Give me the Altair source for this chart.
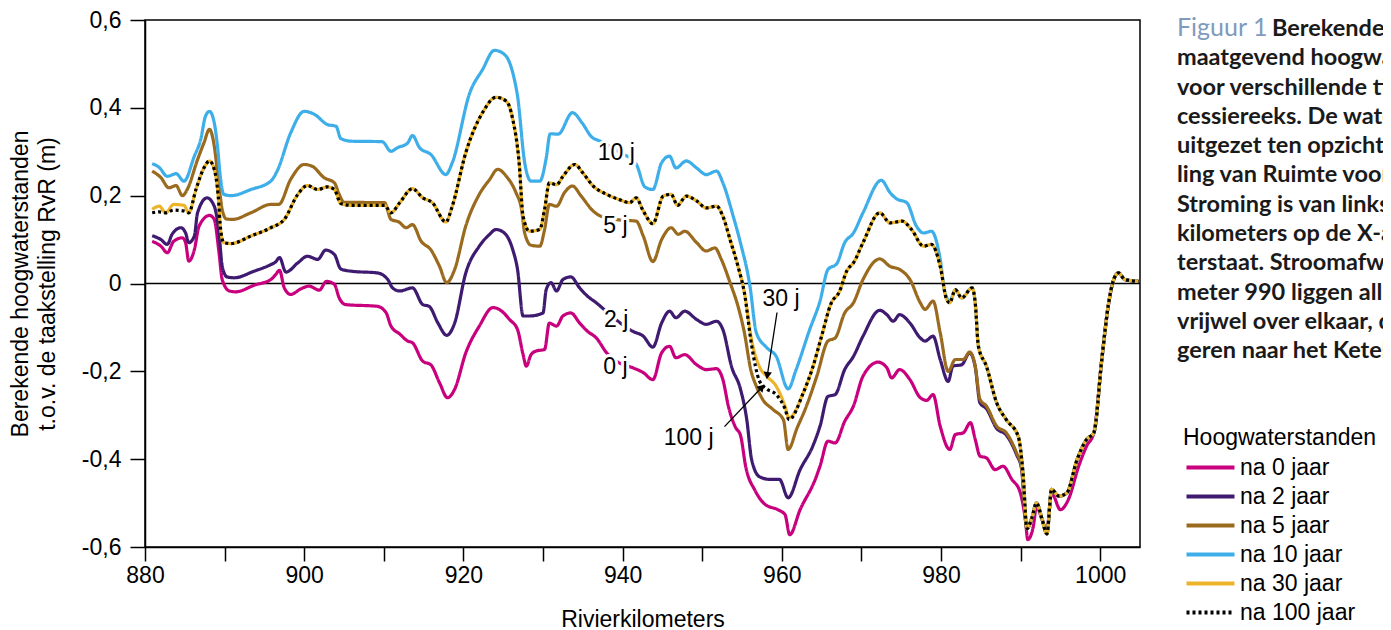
import altair as alt
import pandas as pd

SERIES = ["na 0 jaar", "na 2 jaar", "na 5 jaar", "na 10 jaar", "na 30 jaar", "na 100 jaar"]
COLORS = ["#c8007e", "#3e1a70", "#9a6a1f", "#3eaee9", "#ecb42a", "#000000"]
DASHES = [[1, 0], [1, 0], [1, 0], [1, 0], [1, 0], [3, 3]]

# shared downstream part (curves coincide there)
tail_km = [984.3, 984.7, 985.7, 987.0, 988.2, 989.7, 990.3, 990.8, 991.4, 992.0, 992.7, 993.3,
           993.9, 994.8, 995.8, 997.1, 998.3, 999.2, 1000.2, 1001.0, 1001.7, 1002.3, 1003.1, 1004.8]
tail_val = [-0.044, -0.143, -0.188, -0.272, -0.310, -0.348, -0.431, -0.558, -0.535, -0.500, -0.537, -0.570,
            -0.469, -0.484, -0.477, -0.401, -0.355, -0.340, -0.173, -0.052, 0.009, 0.024, 0.009, 0.005]

km_0 = [880.9, 882.0, 882.8, 883.6, 884.7, 885.1, 885.5, 886.2, 886.8, 888.1, 888.7, 889.3, 889.7, 890.6,
        891.4, 893.7, 895.8, 896.4, 896.9, 897.5, 898.3, 899.6, 900.6, 901.9, 902.8, 903.8, 904.4, 905.2,
        909.2, 910.3, 910.9, 912.0, 913.0, 913.6, 914.9, 915.9, 917.0, 918.0, 918.9, 920.3, 922.0, 923.7,
        924.5, 925.8, 926.8, 927.5, 927.9, 928.5, 929.1, 930.2, 930.8, 931.7, 932.5, 933.5, 934.6, 935.6,
        936.7, 938.0, 939.5, 941.3, 942.6, 943.8, 944.9, 945.9, 946.7, 947.8, 949.3, 950.5, 951.8, 952.6,
        953.3, 954.2, 954.8, 955.5, 956.6, 957.9, 959.5, 960.4, 961.0, 962.3, 964.2, 964.8, 965.8, 966.7,
        967.9, 969.0, 970.2, 972.1, 973.2, 973.8, 974.8, 976.1, 977.4, 978.2, 979.0, 979.9, 981.1, 981.8,
        982.8, 983.7, 984.3, 984.9, 985.7, 986.8, 987.8, 988.9, 989.9, 990.6, 990.9, 991.6, 992.0, 992.7,
        993.3, 993.9, 995.0, 996.0, 997.3, 998.3]
val_0 = [0.096, 0.085, 0.070, 0.096, 0.104, 0.093, 0.051, 0.077, 0.131, 0.155, 0.146, 0.070, 0.009, -0.017,
         -0.019, -0.004, 0.009, 0.020, 0.030, -0.010, -0.025, -0.012, -0.006, -0.015, 0.005, -0.002, -0.033, -0.048,
         -0.052, -0.067, -0.097, -0.115, -0.131, -0.135, -0.177, -0.185, -0.226, -0.260, -0.241, -0.158, -0.097, -0.055,
         -0.059, -0.082, -0.105, -0.162, -0.188, -0.162, -0.154, -0.150, -0.090, -0.097, -0.074, -0.067, -0.090, -0.109,
         -0.124, -0.158, -0.180, -0.192, -0.203, -0.219, -0.158, -0.143, -0.169, -0.162, -0.185, -0.196, -0.194, -0.219,
         -0.280, -0.328, -0.345, -0.420, -0.470, -0.503, -0.515, -0.526, -0.572, -0.515, -0.446, -0.416, -0.359, -0.363,
         -0.314, -0.279, -0.211, -0.179, -0.192, -0.215, -0.196, -0.219, -0.260, -0.266, -0.253, -0.325, -0.378, -0.344,
         -0.340, -0.317, -0.355, -0.393, -0.397, -0.424, -0.416, -0.446, -0.473, -0.538, -0.583, -0.553, -0.507, -0.538,
         -0.560, -0.477, -0.515, -0.492, -0.416, -0.370]

km_2 = [880.9, 882.0, 882.8, 883.4, 884.5, 885.1, 885.5, 886.2, 886.6, 887.8, 888.7, 889.3, 889.7, 890.3,
        891.2, 893.7, 895.8, 896.4, 896.9, 897.7, 899.2, 900.4, 901.7, 902.7, 903.8, 904.6, 905.9, 909.2,
        910.5, 911.1, 912.0, 913.6, 914.9, 915.7, 916.8, 917.9, 918.9, 920.3, 922.0, 923.3, 924.1, 925.2,
        926.2, 926.8, 927.5, 928.3, 930.0, 930.4, 931.0, 931.7, 932.5, 933.5, 934.6, 935.6, 936.7, 939.0,
        941.3, 942.6, 943.8, 944.9, 945.9, 946.7, 947.8, 949.3, 950.5, 951.8, 952.6, 953.7, 954.8, 955.6,
        956.2, 957.2, 958.5, 959.7, 960.8, 962.3, 963.9, 964.8, 965.8, 966.7, 967.9, 969.0, 970.2, 972.3,
        973.2, 974.0, 974.8, 976.1, 977.4, 978.0, 979.0, 979.9, 980.9, 981.5, 982.6, 983.6, 984.3, 984.9,
        985.7, 987.0, 988.2, 989.5, 990.1]
val_2 = [0.109, 0.100, 0.089, 0.112, 0.127, 0.115, 0.093, 0.108, 0.161, 0.195, 0.176, 0.115, 0.039, 0.015,
         0.013, 0.028, 0.043, 0.049, 0.059, 0.026, 0.047, 0.062, 0.055, 0.076, 0.066, 0.033, 0.028, 0.024,
         0.009, -0.010, -0.017, -0.010, -0.048, -0.052, -0.090, -0.118, -0.090, 0.024, 0.085, 0.112, 0.123, 0.114,
         0.077, 0.032, -0.074, -0.074, -0.067, -0.014, 0.002, -0.017, 0.009, 0.015, -0.010, -0.029, -0.044, -0.080,
         -0.109, -0.120, -0.145, -0.090, -0.063, -0.078, -0.063, -0.082, -0.093, -0.086, -0.105, -0.190, -0.240, -0.310,
         -0.400, -0.440, -0.446, -0.446, -0.488, -0.424, -0.370, -0.325, -0.257, -0.253, -0.196, -0.166, -0.120, -0.061,
         -0.071, -0.086, -0.071, -0.090, -0.124, -0.131, -0.120, -0.173, -0.223, -0.188, -0.185, -0.158, -0.190, -0.272,
         -0.285, -0.330, -0.345, -0.390, -0.420]

km_5 = [880.9, 882.0, 883.0, 883.9, 884.7, 885.3, 886.6, 887.4, 888.1, 888.7, 889.2, 889.7, 890.2, 891.0,
        893.3, 895.8, 896.8, 898.3, 900.0, 901.0, 902.5, 903.8, 904.4, 905.0, 910.1, 910.9, 911.9, 912.8,
        913.6, 914.7, 915.9, 917.0, 917.9, 918.9, 920.3, 922.0, 923.3, 924.3, 925.4, 926.6, 927.3, 927.7,
        928.5, 929.6, 930.2, 930.8, 931.7, 932.7, 933.7, 934.8, 936.3, 937.3, 939.5, 941.7, 942.6, 943.8,
        944.9, 946.1, 947.0, 947.8, 949.3, 950.5, 951.6, 952.4, 953.5, 954.5, 955.3, 956.1, 956.8, 957.6,
        958.9, 960.2, 960.8, 961.9, 963.1, 964.4, 965.8, 966.7, 967.9, 969.0, 970.2, 972.3, 973.6, 974.8,
        976.1, 977.4, 978.0, 979.0, 979.9, 980.9, 981.8, 982.8, 983.6, 984.3, 984.9, 985.7, 987.0, 988.2,
        989.5, 990.1]
val_5 = [0.256, 0.241, 0.218, 0.223, 0.200, 0.214, 0.282, 0.320, 0.351, 0.313, 0.237, 0.169, 0.147, 0.146,
         0.161, 0.180, 0.180, 0.237, 0.271, 0.267, 0.241, 0.229, 0.203, 0.185, 0.184, 0.146, 0.140, 0.127,
         0.134, 0.096, 0.077, 0.039, 0.002, 0.032, 0.131, 0.203, 0.237, 0.260, 0.244, 0.207, 0.169, 0.115,
         0.087, 0.085, 0.123, 0.180, 0.176, 0.207, 0.222, 0.199, 0.165, 0.153, 0.145, 0.142, 0.108, 0.050,
         0.100, 0.127, 0.112, 0.119, 0.093, 0.074, 0.081, 0.055, 0.002, -0.052, -0.112, -0.196, -0.234, -0.264,
         -0.287, -0.310, -0.378, -0.330, -0.279, -0.211, -0.131, -0.124, -0.067, -0.044, 0.009, 0.056, 0.039, 0.032,
         0.009, -0.044, -0.059, -0.040, -0.112, -0.200, -0.173, -0.173, -0.156, -0.188, -0.264, -0.279, -0.325, -0.340,
         -0.386, -0.416]

km_10 = [880.9, 881.8, 882.8, 883.9, 884.9, 886.2, 887.0, 887.6, 888.1, 888.7, 889.1, 889.5, 889.9, 890.8,
         893.3, 895.8, 896.6, 898.3, 900.0, 901.3, 902.9, 904.0, 904.6, 905.9, 909.8, 910.9, 911.7, 913.0,
         913.6, 914.5, 915.9, 917.8, 918.6, 920.8, 922.4, 923.9, 924.9, 925.8, 926.4, 926.8, 927.7, 928.5,
         929.6, 930.4, 930.9, 931.9, 933.7, 934.9, 936.1, 937.2, 939.5, 941.7, 942.8, 943.8, 944.9, 945.9,
         946.7, 948.0, 949.3, 950.5, 951.8, 952.6, 953.9, 954.7, 956.0, 956.8, 958.1, 959.3, 960.8, 961.8,
         963.5, 964.8, 965.8, 966.9, 967.9, 969.0, 970.2, 972.5, 973.6, 974.4, 975.7, 976.9, 977.8, 978.8,
         979.9, 980.5, 981.1, 981.8, 982.6, 983.9]
val_10 = [0.273, 0.264, 0.244, 0.250, 0.233, 0.290, 0.328, 0.381, 0.392, 0.366, 0.313, 0.237, 0.203, 0.200,
          0.214, 0.233, 0.256, 0.343, 0.392, 0.385, 0.362, 0.358, 0.330, 0.324, 0.323, 0.301, 0.309, 0.320,
          0.337, 0.309, 0.294, 0.248, 0.275, 0.434, 0.487, 0.531, 0.525, 0.503, 0.465, 0.427, 0.275, 0.233,
          0.233, 0.285, 0.341, 0.340, 0.389, 0.366, 0.334, 0.324, 0.300, 0.272, 0.220, 0.214, 0.275, 0.290,
          0.263, 0.279, 0.263, 0.248, 0.256, 0.229, 0.153, 0.100, -0.006, -0.112, -0.146, -0.166, -0.240, -0.196,
          -0.105, -0.040, 0.032, 0.045, 0.093, 0.115, 0.161, 0.235, 0.207, 0.193, 0.184, 0.131, 0.115, 0.119,
          0.055, -0.021, -0.040, -0.014, -0.033, -0.010]

km_30 = [880.9, 881.8, 882.6, 883.6, 884.9, 885.5, 886.4, 887.4, 888.1, 888.7, 889.2, 889.5, 889.9, 890.8,
         893.3, 895.8, 897.5, 899.2, 900.4, 901.7, 902.9, 903.8, 904.6, 905.9, 910.1, 910.9, 912.0, 913.6,
         914.9, 916.1, 917.8, 918.6, 920.3, 922.4, 924.1, 925.4, 926.2, 927.0, 927.5, 928.3, 929.6, 930.2,
         930.8, 931.7, 932.5, 934.0, 935.0, 936.3, 938.0, 939.6, 940.9, 941.7, 942.6, 943.8, 945.1, 946.1,
         946.9, 948.0, 949.3, 950.5, 951.8, 952.6, 953.5, 954.5, 955.3, 956.2, 957.2, 958.1, 959.3, 960.4,
         960.9, 962.7, 963.9, 965.0, 966.2, 967.2, 968.2, 969.0, 970.2, 972.3, 973.6, 975.1, 976.3, 977.8,
         978.8, 979.9, 980.7, 981.1, 981.8, 982.6, 983.9]
val_30 = [0.169, 0.176, 0.161, 0.180, 0.178, 0.161, 0.214, 0.263, 0.279, 0.260, 0.199, 0.123, 0.093, 0.091,
          0.108, 0.127, 0.146, 0.203, 0.223, 0.214, 0.220, 0.214, 0.182, 0.178, 0.178, 0.161, 0.184, 0.216,
          0.195, 0.184, 0.140, 0.176, 0.298, 0.389, 0.424, 0.415, 0.374, 0.275, 0.153, 0.119, 0.123, 0.169,
          0.229, 0.225, 0.244, 0.271, 0.252, 0.222, 0.203, 0.191, 0.184, 0.195, 0.165, 0.136, 0.199, 0.203,
          0.178, 0.199, 0.188, 0.172, 0.176, 0.153, 0.100, 0.039, -0.021, -0.128, -0.190, -0.211, -0.234, -0.279,
          -0.306, -0.249, -0.190, -0.120, -0.045, -0.020, 0.030, 0.047, 0.093, 0.161, 0.138, 0.142, 0.123, 0.085,
          0.089, 0.039, -0.036, -0.044, -0.014, -0.033, -0.010]
val_100 = [0.161, 0.163, 0.161, 0.167, 0.165, 0.161, 0.214, 0.263, 0.279, 0.260, 0.199, 0.123, 0.093, 0.091,
           0.108, 0.127, 0.146, 0.203, 0.223, 0.214, 0.220, 0.214, 0.182, 0.178, 0.178, 0.161, 0.184, 0.216,
           0.195, 0.184, 0.140, 0.176, 0.298, 0.389, 0.424, 0.415, 0.374, 0.275, 0.153, 0.119, 0.123, 0.169,
           0.229, 0.225, 0.244, 0.271, 0.252, 0.222, 0.203, 0.191, 0.184, 0.195, 0.165, 0.136, 0.199, 0.203,
           0.178, 0.199, 0.188, 0.172, 0.176, 0.153, 0.100, 0.039, -0.021, -0.140, -0.222, -0.240, -0.253, -0.285,
           -0.310, -0.249, -0.190, -0.120, -0.045, -0.020, 0.030, 0.047, 0.093, 0.161, 0.138, 0.142, 0.123, 0.085,
           0.089, 0.039, -0.036, -0.044, -0.014, -0.033, -0.010]

# annotation labels (data coordinates)
lab_text = ["10 j", "5 j", "2 j", "0 j", "30 j", "100 j"]
lab_km = [939.2, 939.1, 939.2, 939.1, 959.9, 948.3]
lab_val = [0.298, 0.130, -0.084, -0.191, -0.036, -0.351]
# arrows: start -> tip
arr_km = [959.4, 952.8]
arr_val = [-0.066, -0.326]
arr_km2 = [958.2, 957.4]
arr_val2 = [-0.207, -0.238]

caption_lines = [
    "maatgevend hoogwater",
    "voor verschillende tijd",
    "cessiereeks. De water",
    "uitgezet ten opzichte",
    "ling van Ruimte voor de",
    "Stroming is van links",
    "kilometers op de X-as",
    "terstaat. Stroomafwaarts",
    "meter 990 liggen alle",
    "vrijwel over elkaar, do",
    "geren naar het Ketel",
]

rows = []
def add(name, kms, vals, tail_from=None):
    for k, v in zip(kms, vals):
        rows.append({"reeks": name, "km": k, "val": v})
    if tail_from is not None:
        for k, v in zip(tail_km, tail_val):
            if k >= tail_from:
                rows.append({"reeks": name, "km": k, "val": v})

add(SERIES[0], km_0, val_0, 999.2)
add(SERIES[1], km_2, val_2, 990.8)
add(SERIES[2], km_5, val_5, 990.8)
add(SERIES[3], km_10, val_10, 984.3)
add(SERIES[4], km_30, val_30, 984.3)
add(SERIES[5], km_30, val_100, 984.3)
df = pd.DataFrame(rows)

FONT = "Liberation Sans"
FS = 23

xs = alt.X("km:Q", scale=alt.Scale(domain=[880, 1005], nice=False, zero=False),
           axis=alt.Axis(title="Rivierkilometers", values=list(range(880, 1001, 10)),
                         labelExpr="datum.value % 20 == 0 ? format(datum.value, 'd') : ''",
                         tickSize=14, labelPadding=3, titlePadding=21, grid=False,
                         labelFlush=False, labelOverlap=False))
ys = alt.Y("val:Q", scale=alt.Scale(domain=[-0.6, 0.6], nice=False, zero=False),
           axis=alt.Axis(title=["Berekende hoogwaterstanden", "t.o.v. de taakstelling RvR (m)"],
                         values=[-0.6, -0.4, -0.2, 0, 0.2, 0.4, 0.6],
                         labelExpr="abs(datum.value) < 1e-9 ? '0' : (datum.value < 0 ? '-' : '') + replace(format(abs(datum.value), '.1f'), '.', ',')",
                         tickSize=15, labelPadding=9, titlePadding=22, grid=False,
                         labelFlush=False, labelOverlap=False))

leg = alt.Legend(title="Hoogwaterstanden", orient="none", legendX=1038, legendY=407,
                 symbolType="M-3,0L3,0", symbolStrokeWidth=4, symbolSize=256, symbolOffset=16,
                 labelOffset=18, titlePadding=6, rowPadding=5, titleLimit=400, labelLimit=400)

zero = alt.Chart(pd.DataFrame({"val": [0.0]})).mark_rule(color="black", strokeWidth=1.5).encode(y=ys)

lines = alt.Chart(df).mark_line(strokeWidth=3.2, clip=True, interpolate="monotone").encode(
    x=xs, y=ys,
    color=alt.Color("reeks:N", scale=alt.Scale(domain=SERIES, range=COLORS), legend=leg, sort=SERIES),
    strokeDash=alt.StrokeDash("reeks:N", scale=alt.Scale(domain=SERIES, range=DASHES), legend=leg, sort=SERIES),
)

arr_df = pd.DataFrame({"km": arr_km, "val": arr_val, "km2": arr_km2, "val2": arr_val2})
arrows = alt.Chart(arr_df).mark_rule(color="black", strokeWidth=1.3).encode(
    x=xs, y=ys, x2="km2:Q", y2="val2:Q")
head30 = alt.Chart(pd.DataFrame({"km": [arr_km2[0]], "val": [arr_val2[0]]})).mark_point(
    shape="triangle", filled=True, color="black", size=70, angle=188, opacity=1).encode(x=xs, y=ys)
head100 = alt.Chart(pd.DataFrame({"km": [arr_km2[1]], "val": [arr_val2[1]]})).mark_point(
    shape="triangle", filled=True, color="black", size=70, angle=44, opacity=1).encode(x=xs, y=ys)

lab_df = pd.DataFrame({"km": lab_km, "val": lab_val, "lab": lab_text})
halo = alt.Chart(lab_df).mark_text(font=FONT, fontSize=FS, stroke="white", strokeWidth=6,
                                   color="white", strokeJoin="round").encode(x=xs, y=ys, text="lab:N")
labels = alt.Chart(lab_df).mark_text(font=FONT, fontSize=FS, color="black").encode(x=xs, y=ys, text="lab:N")

dummy = pd.DataFrame({"d": [0]})
cap_fig = alt.Chart(dummy).mark_text(text="Figuur 1", font="Lato", fontSize=25, fontWeight="normal",
                                     color="#7f9bbd", align="left", baseline="alphabetic").encode(
    x=alt.value(1032), y=alt.value(16))
cap_first = alt.Chart(dummy).mark_text(text="Berekende verandering", font="Lato", fontSize=23.5, fontWeight="bold",
                                       color="#1a1a1a", align="left", baseline="alphabetic").encode(
    x=alt.value(1127), y=alt.value(16))
cap_rest = alt.Chart(dummy).mark_text(text=caption_lines, font="Lato", fontSize=23.5, fontWeight="bold",
                                      color="#1a1a1a", align="left", baseline="alphabetic",
                                      lineHeight=29.3).encode(x=alt.value(1032), y=alt.value(45.3))

chart = alt.layer(zero, lines, arrows, head30, head100, halo, labels, cap_fig, cap_first, cap_rest).properties(
    width=995, height=527,
    autosize=alt.AutoSizeParams(type="none"),
    padding={"left": 137, "top": 12, "right": 243, "bottom": 83},
).configure_view(stroke="black", strokeWidth=1.5).configure_axis(
    labelFont=FONT, labelFontSize=FS, titleFont=FONT, titleFontSize=FS, titleFontWeight="normal",
    labelColor="black", titleColor="black", domainColor="black", tickColor="black",
    domainWidth=1.5, tickWidth=1.5, titleLineHeight=27,
).configure_legend(
    labelFont=FONT, labelFontSize=FS, titleFont=FONT, titleFontSize=FS, titleFontWeight="normal",
    labelColor="black", titleColor="black",
)

chart.save("out.html", embed_options={"renderer": "svg", "actions": False})
